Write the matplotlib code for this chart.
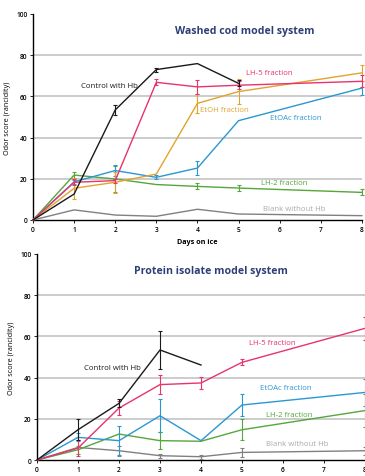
import matplotlib
matplotlib.use("Agg")
import matplotlib.pyplot as plt
import numpy as np

plt.rcParams['font.family'] = ['Open Sans', 'DejaVu Sans']

days = [0, 1, 2, 3, 4, 5, 8]

# Washed cod model system (top)
cod_control = [0, 12.6, 53.4, 73.0, 75.9, 66.3]
cod_control_err = [0, 0, 2.5, 1.0, 0, 1.5]
cod_lh5 = [0, 18.3, 19.1, 66.8, 64.6, 65.4, 67.3]
cod_lh5_err = [0, 1.5, 1.0, 1.5, 3.5, 2.0, 3.0]
cod_etoh = [0, 15.4, 18.3, 22.3, 56.6, 62.3, 71.4]
cod_etoh_err = [0, 5.0, 5.0, 0, 4.5, 6.0, 4.0]
cod_etoac = [0, 18.5, 24.0, 20.7, 25.2, 48.2, 64.0]
cod_etoac_err = [0, 1.0, 2.5, 1.0, 3.5, 0, 3.5]
cod_lh2 = [0, 21.8, 19.9, 17.2, 16.3, 15.5, 13.4]
cod_lh2_err = [0, 1.5, 6.5, 0, 1.5, 1.5, 1.5]
cod_blank = [0, 4.9, 2.4, 1.8, 5.2, 2.9, 2.1]

# Protein isolate model system (bottom)
pi_control = [0, 14.7, 27.5, 53.4, 46.1]
pi_control_err = [0, 5.0, 2.0, 9.0, 0]
pi_lh5 = [0, 5.8, 25.2, 36.6, 37.4, 47.4, 63.9]
pi_lh5_err = [0, 4.0, 3.5, 4.5, 3.0, 1.5, 5.5]
pi_etoac = [0, 11.0, 9.4, 21.5, 9.4, 26.7, 32.8]
pi_etoac_err = [0, 2.0, 7.0, 8.0, 0, 5.5, 6.5]
pi_lh2 = [0, 5.0, 12.6, 9.4, 9.1, 14.7, 24.0]
pi_lh2_err = [0, 2.0, 0, 4.0, 0, 5.0, 8.0]
pi_blank = [0, 6.1, 4.5, 2.1, 1.6, 3.7, 4.5]
pi_blank_err = [0, 0, 2.5, 1.0, 1.0, 2.0, 2.0]

c_black = '#1a1a1a'
c_pink = '#e8336b'
c_gold = '#e0a42e'
c_blue = '#2b97d2'
c_green = '#55a63c'
c_gray = '#808080'
c_title = '#2c3e78'

fig = plt.figure(figsize=(3.65, 4.77), dpi=100)
ax1 = fig.add_axes([0.0904, 0.5367, 0.901, 0.432])
ax2 = fig.add_axes([0.1014, 0.0335, 0.8986, 0.432])


def series(ax, y, err, color):
    x = days[:len(y)]
    ax.plot(x, y, color=color, lw=1.0, zorder=3, clip_on=False)
    if err is not None:
        xe = [a for a, e in zip(x, err) if e > 0]
        ye = [b for b, e in zip(y, err) if e > 0]
        ee = [e for e in err if e > 0]
        eb = ax.errorbar(xe, ye, yerr=ee, fmt='none', ecolor=color, elinewidth=0.8,
                         capsize=1.5, capthick=0.8, zorder=3)
        for art in eb.lines[1] + eb.lines[2]:
            art.set_clip_on(False)


def style(ax):
    ax.set_xlim(0, 8)
    ax.set_ylim(0, 100)
    ax.set_xticks(range(9))
    ax.set_yticks([0, 20, 40, 60, 80, 100])
    for v in [20, 40, 60, 80]:
        ax.axhline(v, color='#cccccc', lw=1.4, zorder=1)
    ax.spines['top'].set_visible(False)
    ax.spines['right'].set_visible(False)
    ax.spines['left'].set_linewidth(1.0)
    ax.spines['bottom'].set_linewidth(1.0)
    ax.tick_params(labelsize=4.8, length=2, width=0.6, pad=2)
    for lab in ax.get_xticklabels() + ax.get_yticklabels():
        lab.set_fontweight('semibold')
    ax.set_ylabel('Odor score (rancidity)', fontsize=5.2, labelpad=4)


style(ax1)
series(ax1, cod_blank, None, c_gray)
series(ax1, cod_lh2, cod_lh2_err, c_green)
series(ax1, cod_etoac, cod_etoac_err, c_blue)
series(ax1, cod_etoh, cod_etoh_err, c_gold)
series(ax1, cod_lh5, cod_lh5_err, c_pink)
series(ax1, cod_control, cod_control_err, c_black)
ax1.set_xlabel('Days on ice', fontsize=5.2, fontweight='bold', labelpad=4)
ax1.text(5.15, 92, 'Washed cod model system', ha='center', va='center',
         fontsize=7.6, fontweight='bold', color=c_title)
fs = 5.6
ax1.text(1.85, 65.5, 'Control with Hb', ha='center', va='center', fontsize=fs, color=c_black)
ax1.text(5.75, 71.4, 'LH-5 fraction', ha='center', va='center', fontsize=fs, color=c_pink)
ax1.text(4.65, 53.4, 'EtOH fraction', ha='center', va='center', fontsize=fs, color=c_gold)
ax1.text(6.4, 49.8, 'EtOAc fraction', ha='center', va='center', fontsize=fs, color=c_blue)
ax1.text(6.1, 18.3, 'LH-2 fraction', ha='center', va='center', fontsize=fs, color=c_green)
ax1.text(6.35, 5.7, 'Blank without Hb', ha='center', va='center', fontsize=fs, color='#aaaaaa')

style(ax2)
series(ax2, pi_blank, pi_blank_err, c_gray)
series(ax2, pi_lh2, pi_lh2_err, c_green)
series(ax2, pi_etoac, pi_etoac_err, c_blue)
series(ax2, pi_lh5, pi_lh5_err, c_pink)
series(ax2, pi_control, pi_control_err, c_black)
ax2.text(4.25, 92, 'Protein isolate model system', ha='center', va='center',
         fontsize=7.6, fontweight='bold', color=c_title)
ax2.text(1.85, 44.7, 'Control with Hb', ha='center', va='center', fontsize=fs, color=c_black)
ax2.text(5.75, 57.1, 'LH-5 fraction', ha='center', va='center', fontsize=fs, color=c_pink)
ax2.text(6.07, 35.0, 'EtOAc fraction', ha='center', va='center', fontsize=fs, color=c_blue)
ax2.text(6.15, 22.3, 'LH-2 fraction', ha='center', va='center', fontsize=fs, color=c_green)
ax2.text(6.35, 7.8, 'Blank without Hb', ha='center', va='center', fontsize=fs, color='#aaaaaa')

fig.savefig('out.png', dpi=100)
